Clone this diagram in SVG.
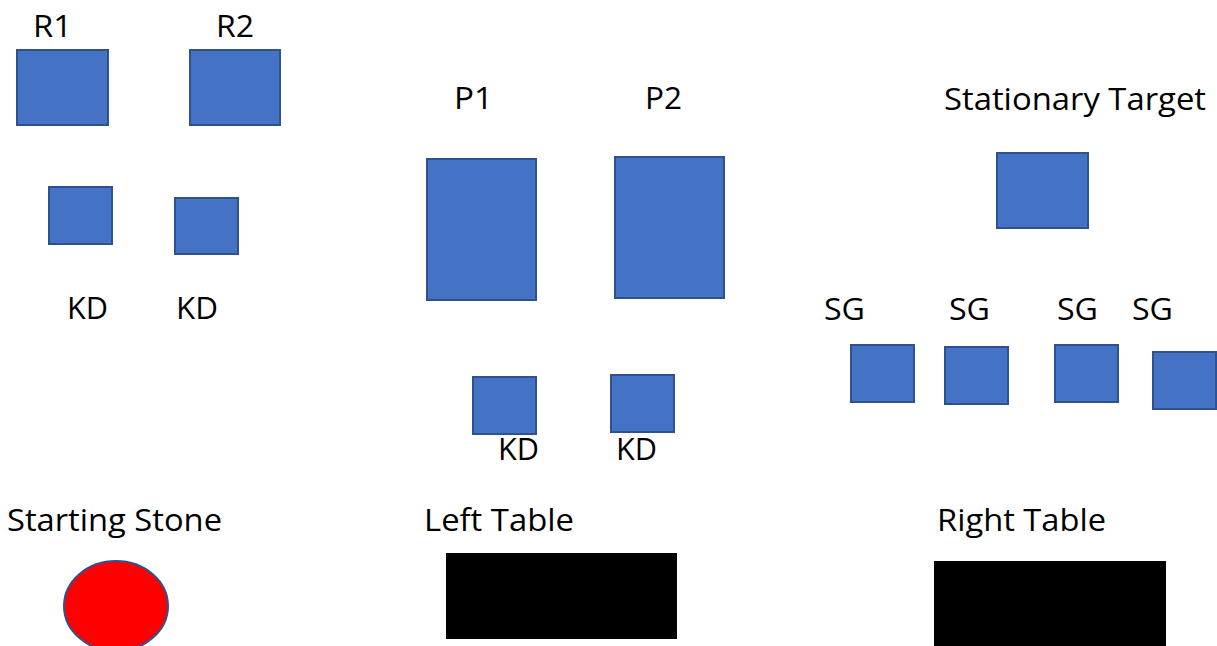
<svg xmlns="http://www.w3.org/2000/svg" width="1217" height="646" viewBox="0 0 1217 646">
<style>
.box{fill:#4472C4;stroke:#2F528F;stroke-width:2}
.tbl{fill:#000000}
.stone{fill:#FF0000;stroke:#2F528F;stroke-width:2}
text{font-family:"Open Sans","Liberation Sans",sans-serif;font-size:31px;fill:#000000}
</style>
<rect width="1217" height="646" fill="#ffffff"/>
<g id="connectors"></g>
<g id="R1"><rect class="box" x="17" y="50" width="91" height="75"/><text x="33" y="37" textLength="39" lengthAdjust="spacingAndGlyphs">R1</text></g>
<g id="R2"><rect class="box" x="190" y="50" width="90" height="75"/><text x="216" y="37" textLength="38" lengthAdjust="spacingAndGlyphs">R2</text></g>
<g id="KD1"><rect class="box" x="49" y="187" width="63" height="57"/><text x="67" y="319" textLength="41" lengthAdjust="spacingAndGlyphs">KD</text></g>
<g id="KD2"><rect class="box" x="175" y="198" width="63" height="56"/><text x="176" y="319" textLength="42" lengthAdjust="spacingAndGlyphs">KD</text></g>
<g id="P1"><rect class="box" x="427" y="159" width="109" height="141"/><text x="454" y="109" textLength="39" lengthAdjust="spacingAndGlyphs">P1</text></g>
<g id="P2"><rect class="box" x="615" y="157" width="109" height="141"/><text x="645" y="109" textLength="37" lengthAdjust="spacingAndGlyphs">P2</text></g>
<g id="KD3"><rect class="box" x="473" y="377" width="63" height="57"/><text x="498" y="460" textLength="41" lengthAdjust="spacingAndGlyphs">KD</text></g>
<g id="KD4"><rect class="box" x="611" y="375" width="63" height="57"/><text x="616" y="460" textLength="41" lengthAdjust="spacingAndGlyphs">KD</text></g>
<g id="StationaryTarget"><rect class="box" x="997" y="153" width="91" height="75"/><text x="944" y="110" textLength="262" lengthAdjust="spacingAndGlyphs">Stationary Target</text></g>
<g id="SG1"><rect class="box" x="851" y="345" width="63" height="57"/><text x="824" y="320" textLength="41" lengthAdjust="spacingAndGlyphs">SG</text></g>
<g id="SG2"><rect class="box" x="945" y="347" width="63" height="57"/><text x="949" y="320" textLength="41" lengthAdjust="spacingAndGlyphs">SG</text></g>
<g id="SG3"><rect class="box" x="1055" y="345" width="63" height="57"/><text x="1057" y="320" textLength="41" lengthAdjust="spacingAndGlyphs">SG</text></g>
<g id="SG4"><rect class="box" x="1153" y="352" width="63" height="57"/><text x="1132" y="320" textLength="41" lengthAdjust="spacingAndGlyphs">SG</text></g>
<g id="StartingStone"><ellipse class="stone" cx="116" cy="606" rx="52" ry="45"/><text x="7" y="531" textLength="215" lengthAdjust="spacingAndGlyphs">Starting Stone</text></g>
<g id="LeftTable"><rect class="tbl" x="446" y="553" width="231" height="86"/><text x="424" y="531" textLength="150" lengthAdjust="spacingAndGlyphs">Left Table</text></g>
<g id="RightTable"><rect class="tbl" x="934" y="561" width="232" height="90"/><text x="937" y="531" textLength="169" lengthAdjust="spacingAndGlyphs">Right Table</text></g>
</svg>
